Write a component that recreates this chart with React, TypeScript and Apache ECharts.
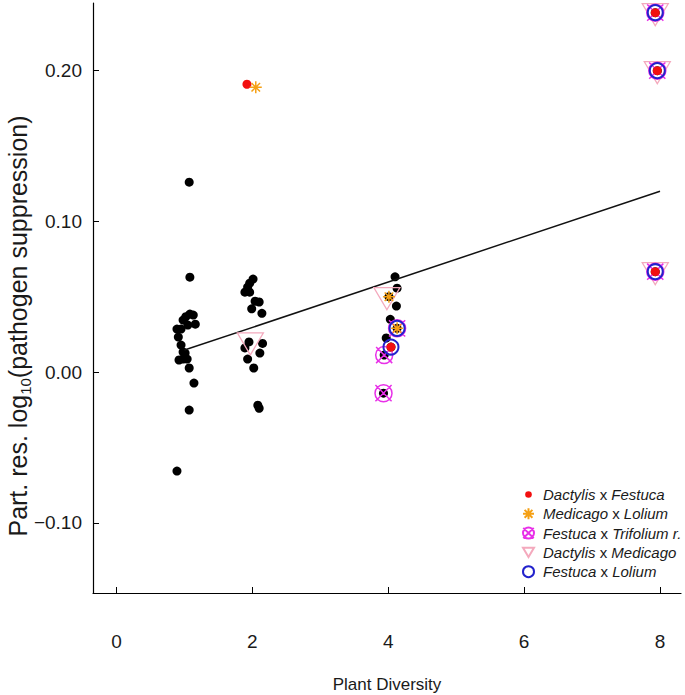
import React, { useEffect, useRef } from "react";
import * as echarts from "echarts";

const xTicks = [0, 2, 4, 6, 8];
const yTicks = [-0.1, 0, 0.1, 0.2];

const allPoints: [number, number][] = [
  [1.07, 0.126], [1.08, 0.063], [1.08, 0.0385], [1.02, 0.0367], [1.13, 0.0378],
  [0.98, 0.0345], [1.16, 0.0318], [1.05, 0.0312], [0.89, 0.0285], [0.95, 0.0285],
  [0.91, 0.0232], [0.95, 0.0179], [0.98, 0.0133], [1.01, 0.0126], [0.92, 0.008],
  [0.98, 0.0086], [1.04, 0.0086], [1.07, 0.0027], [1.14, -0.0073], [1.07, -0.0252],
  [0.89, -0.0657],
  [2.01, 0.0617], [1.96, 0.059], [1.93, 0.0564], [1.89, 0.053], [1.96, 0.053],
  [2.04, 0.047], [2.1, 0.0465], [1.99, 0.042], [2.14, 0.039], [1.95, 0.02],
  [2.15, 0.019], [1.89, 0.016], [2.11, 0.0126], [1.93, 0.0086], [2.02, 0.0027],
  [2.08, -0.022], [2.1, -0.024],
  [4.1, 0.0632], [4.13, 0.0557], [4.01, 0.05], [4.12, 0.0438], [4.03, 0.035],
  [4.13, 0.029], [3.97, 0.0226], [4.04, 0.0166], [3.94, 0.0113], [3.93, -0.014],
  [7.93, 0.2385], [7.96, 0.2], [7.93, 0.0666],
];

const dactylisFestuca: [number, number][] = [
  [1.92, 0.191], [4.04, 0.0166], [7.93, 0.2385], [7.96, 0.2], [7.93, 0.0666],
];
const medicagoLolium: [number, number][] = [
  [2.05, 0.189], [4.01, 0.05], [4.13, 0.029],
];
const festucaTrifolium: [number, number][] = [
  [4.13, 0.029], [3.94, 0.0113], [3.93, -0.014], [7.93, 0.2385], [7.96, 0.2], [7.93, 0.0666],
];
const dactylisMedicago: [number, number][] = [
  [1.97, 0.02], [3.98, 0.05], [7.93, 0.2385], [7.96, 0.2], [7.93, 0.0666],
];
const festucaLolium: [number, number][] = [
  [4.13, 0.029], [4.04, 0.0166], [7.93, 0.2385], [7.96, 0.2], [7.93, 0.0666],
];

const fitLine: [number, number][] = [[1, 0.0146], [8, 0.12]];

const legendNames = [
  "Dactylis x Festuca",
  "Medicago x Lolium",
  "Festuca x Trifolium r.",
  "Dactylis x Medicago",
  "Festuca x Lolium",
];

const STAR = "path://M0,-10L0,10M-10,0L10,0M-7.1,-7.1L7.1,7.1M-7.1,7.1L7.1,-7.1";
const CROSSCIRCLE =
  "path://M-8,0A8,8 0 1,0 8,0A8,8 0 1,0 -8,0ZM-7.6,-7.6L7.6,7.6M-7.6,7.6L7.6,-7.6";
const TRI = "path://M-10,-6L10,-6L0,11Z";
const SMALLDOT = "path://M-7,-7M7,7M-4.2,0A4.2,4.2 0 1,0 4.2,0A4.2,4.2 0 1,0 -4.2,0Z";

const FONT = "'Liberation Sans', Arial, sans-serif";

export default function App() {
  const ref = useRef<HTMLDivElement>(null);
  useEffect(() => {
    if (!ref.current) return;
    const chart = echarts.init(ref.current, undefined, { renderer: "svg" });
    chart.setOption({
      animation: false,
      backgroundColor: "#ffffff",
      grid: { left: 93, top: 3, right: 4, bottom: 102, containLabel: false, outerBoundsMode: "none" },
      xAxis: {
        type: "value",
        min: -0.346,
        max: 8.309,
        name: "Plant Diversity",
        nameLocation: "middle",
        nameGap: 83,
        nameTextStyle: { fontFamily: FONT, fontSize: 17, color: "#1a1a1a" },
        axisLine: { show: true, onZero: false, lineStyle: { color: "#000", width: 1.2 } },
        axisTick: { show: true, inside: true, length: 6, customValues: xTicks, lineStyle: { color: "#000" } },
        axisLabel: {
          customValues: xTicks,
          margin: 39,
          fontFamily: FONT,
          fontSize: 19,
          color: "#1a1a1a",
        },
        splitLine: { show: false },
      },
      yAxis: {
        type: "value",
        min: -0.1466,
        max: 0.2449,
        axisLine: { show: true, onZero: false, lineStyle: { color: "#000", width: 1.2 } },
        axisTick: { show: true, inside: true, length: 6, customValues: yTicks, lineStyle: { color: "#000" } },
        axisLabel: {
          customValues: yTicks,
          margin: 11,
          fontFamily: FONT,
          fontSize: 19,
          color: "#1a1a1a",
          formatter: (v: number) => (v < 0 ? "\u2212" + Math.abs(v).toFixed(2) : v.toFixed(2)),
        },
        splitLine: { show: false },
      },
      legend: {
        data: [
          { name: legendNames[0], icon: SMALLDOT },
          legendNames[1],
          legendNames[2],
          legendNames[3],
          legendNames[4],
        ],
        orient: "vertical",
        left: 517,
        top: 482,
        itemWidth: 11,
        itemHeight: 11,
        itemGap: 4.3,
        textStyle: {
          fontFamily: FONT,
          fontSize: 15,
          color: "#1a1a1a",
          lineHeight: 14,
          padding: [0, 0, 0, 4],
          rich: { i: { fontStyle: "italic", fontFamily: FONT, fontSize: 15, color: "#1a1a1a", lineHeight: 14 } },
        },
        formatter: (name: string) =>
          name.split(" x ").map((w) => `{i|${w}}`).join(" x "),
      },
      graphic: [
        {
          type: "text",
          x: 18,
          y: 326,
          rotation: Math.PI / 2,
          style: {
            text: "Part. res. log{sub|10}(pathogen suppression)",
            fontFamily: FONT,
            fontSize: 25,
            fill: "#1a1a1a",
            align: "center",
            verticalAlign: "middle",
            lineHeight: 30,
            rich: {
              sub: { fontFamily: FONT, fontSize: 15, fill: "#1a1a1a", verticalAlign: "bottom", lineHeight: 30 },
            },
          },
        },
      ],
      series: [
        {
          type: "line",
          data: fitLine,
          symbol: "none",
          lineStyle: { color: "#111", width: 1.5 },
          z: 3,
          silent: true,
        },
        {
          name: "all",
          type: "scatter",
          data: allPoints,
          symbol: "circle",
          symbolSize: 9,
          itemStyle: { color: "#000", opacity: 1 },
          z: 2,
        },
        {
          name: "Dactylis x Medicago",
          type: "scatter",
          data: dactylisMedicago,
          symbol: TRI,
          symbolSize: [26, 22],
          symbolOffset: [0, 2],
          itemStyle: { color: "transparent", borderColor: "#f4a9bd", borderWidth: 1.3, opacity: 1 },
          z: 4,
        },
        {
          name: "Festuca x Trifolium r.",
          type: "scatter",
          data: festucaTrifolium,
          symbol: CROSSCIRCLE,
          symbolSize: 17,
          itemStyle: { color: "transparent", borderColor: "#e830e8", borderWidth: 1.5, opacity: 1 },
          z: 5,
        },
        {
          name: "Festuca x Lolium",
          type: "scatter",
          data: festucaLolium,
          symbol: "circle",
          symbolSize: 15,
          itemStyle: { color: "transparent", borderColor: "#2222cc", borderWidth: 2, opacity: 1 },
          z: 6,
        },
        {
          name: "Dactylis x Festuca",
          type: "scatter",
          data: dactylisFestuca,
          symbol: "circle",
          symbolSize: 9,
          itemStyle: { color: "#f21010", opacity: 1 },
          z: 7,
        },
        {
          name: "Medicago x Lolium",
          type: "scatter",
          data: medicagoLolium,
          symbol: STAR,
          symbolSize: 12,
          itemStyle: { color: "transparent", borderColor: "#f5a014", borderWidth: 1.5, opacity: 1 },
          z: 8,
        },
      ],
    });
    return () => chart.dispose();
  }, []);
  return <div ref={ref} style={{ width: 685, height: 695, position: "absolute", left: 0, top: 0 }} />;
}
